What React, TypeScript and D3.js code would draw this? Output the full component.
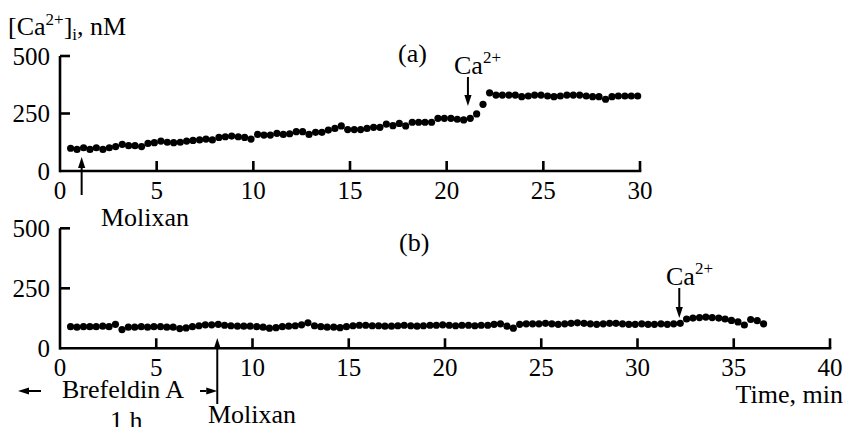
import React from "react";
import * as d3 from "d3";

// ---------- DATA ----------
const timesA = [
  0.55, 0.88,
  1.22, 1.55, 1.88, 2.22, 2.55, 2.88, 3.22, 3.55, 3.88, 4.22, 4.55, 4.88,
  5.22, 5.55, 5.88, 6.22, 6.55, 6.88, 7.22, 7.55, 7.88, 8.22, 8.55, 8.88,
  9.22, 9.55, 9.88, 10.22, 10.55, 10.88, 11.22, 11.55, 11.88, 12.22, 12.55, 12.88,
  13.22, 13.55, 13.88, 14.22, 14.55, 14.88, 15.22, 15.55, 15.88, 16.22, 16.55, 16.88,
  17.22, 17.55, 17.88, 18.22, 18.55, 18.88, 19.22, 19.55, 19.88, 20.22, 20.55, 20.88,
  21.22, 21.55, 21.88, 22.22, 22.55, 22.88, 23.22, 23.55, 23.88, 24.22, 24.55, 24.88,
  25.22, 25.55, 25.88, 26.22, 26.55, 26.88, 27.22, 27.55, 27.88, 28.22, 28.55, 28.88,
  29.22, 29.55, 29.88,
];
const valuesA = [
  99, 94, 101, 94, 101, 94, 101, 106, 116, 110, 110, 106, 120, 123, 130, 125, 123, 125, 130, 133,
  135, 139, 135, 146, 149, 152, 149, 146, 139, 159,
  156, 156, 164, 159, 162, 171, 171, 159, 168, 168, 178, 185, 196, 180, 180, 180, 185, 190, 190, 204,
  197, 207, 196, 212, 212, 212, 212, 229, 229,
  229, 225, 222, 229, 248, 290, 340,
  330, 330, 330, 330, 323, 326, 330, 330, 326, 323, 326, 330, 330, 330, 326, 323, 323, 312, 323, 326,
  326, 326, 326,
];

const timesB = [
  0.55, 0.88,
  1.22, 1.55, 1.88, 2.22, 2.55, 2.88, 3.22, 3.55, 3.88, 4.22, 4.55, 4.88,
  5.22, 5.55, 5.88, 6.22, 6.55, 6.88, 7.22, 7.55, 7.88, 8.22, 8.55, 8.88,
  9.22, 9.55, 9.88, 10.22, 10.55, 10.88, 11.22, 11.55, 11.88, 12.22, 12.55, 12.88,
  13.22, 13.55, 13.88, 14.22, 14.55, 14.88, 15.22, 15.55, 15.88, 16.22, 16.55, 16.88,
  17.22, 17.55, 17.88, 18.22, 18.55, 18.88, 19.22, 19.55, 19.88, 20.22, 20.55, 20.88,
  21.22, 21.55, 21.88, 22.22, 22.55, 22.88, 23.22, 23.55, 23.88, 24.22, 24.55, 24.88,
  25.22, 25.55, 25.88, 26.22, 26.55, 26.88, 27.22, 27.55, 27.88, 28.22, 28.55, 28.88,
  29.22, 29.55, 29.88, 30.22, 30.55, 30.88, 31.22, 31.55, 31.88, 32.22, 32.55, 32.88,
  33.22, 33.55, 33.88, 34.22, 34.55, 34.88, 35.22, 35.55, 35.88, 36.22, 36.55,
];
const valuesB = [
  90, 88, 90, 90, 90, 92, 90,
  100, 78,
  88, 88, 90, 88, 90, 90, 88, 88,
  82, 85,
  90, 94, 98, 98,
  100, 96, 94, 92, 92,
  92, 90, 88, 84, 86, 90, 92, 94, 98, 106, 94, 90, 88, 88, 86, 90,
  94, 96, 96, 94, 94, 92, 92, 94, 96, 94, 92, 94, 96, 96, 98, 96, 94,
  96, 96, 94, 96, 96, 100, 102, 92, 84, 100, 102,
  102, 102, 104, 102, 100, 102, 104, 106, 104, 102, 100, 102, 104, 104, 102, 100, 100, 102,
  100, 100, 102, 100, 102, 104, 122, 126, 128, 130, 128, 126, 122, 116, 110, 97, 120, 115, 102,
];

const yTicks = [0, 250, 500];
const xTicksA = [0, 5, 10, 15, 20, 25, 30];
const xTicksB = [0, 5, 10, 15, 20, 25, 30, 35, 40];

// annotation times (min)
const molixanA = 1.12;
const calciumA = 21.1;
const molixanB = 8.17;
const calciumB = 32.17;

// ---------- LAYOUT ----------
const FONT = "'Liberation Serif', 'Times New Roman', serif";
const FS = 26; // words
const FN = 25; // numbers
const FSUP = 17;
const AXW = 2.6;

const xA = d3.scaleLinear().domain([0, 30]).range([60, 640]);
const yA = d3.scaleLinear().domain([0, 500]).range([171, 56]);
const xB = d3.scaleLinear().domain([0, 40]).range([60, 830]);
const yB = d3.scaleLinear().domain([0, 500]).range([348.3, 228.3]);

function Arrow({ x1, y1, x2, y2 }: { x1: number; y1: number; x2: number; y2: number }) {
  const ang = Math.atan2(y2 - y1, x2 - x1);
  const L = 11;
  const W = 3.6;
  const bx = x2 - L * Math.cos(ang);
  const by = y2 - L * Math.sin(ang);
  const px = -Math.sin(ang) * W;
  const py = Math.cos(ang) * W;
  return (
    <g>
      <line x1={x1} y1={y1} x2={bx} y2={by} stroke="#000" strokeWidth={2} />
      <polygon points={`${x2},${y2} ${bx + px},${by + py} ${bx - px},${by - py}`} fill="#000" />
    </g>
  );
}

function Panel({
  x, y, xTicks, times, values,
}: {
  x: d3.ScaleLinear<number, number>;
  y: d3.ScaleLinear<number, number>;
  xTicks: number[];
  times: number[];
  values: number[];
}) {
  const [x0, x1] = x.range();
  const y0 = y(0);
  return (
    <g>
      <line x1={x0} y1={y(500)} x2={x0} y2={y0 + AXW / 2} stroke="#000" strokeWidth={AXW} />
      <line x1={x0} y1={y0} x2={x1 + AXW / 2} y2={y0} stroke="#000" strokeWidth={AXW} />
      {yTicks.filter((t) => t > 0).map((t) => (
        <line key={"yt" + t} x1={x0} x2={x0 + 10} y1={y(t)} y2={y(t)} stroke="#000" strokeWidth={AXW} />
      ))}
      {xTicks.filter((t) => t > 0).map((t) => (
        <line key={"xt" + t} x1={x(t)} x2={x(t)} y1={y0} y2={y0 - 10} stroke="#000" strokeWidth={AXW} />
      ))}
      {yTicks.map((t) => (
        <text key={"yl" + t} x={50} y={y(t) + 8.5} textAnchor="end" fontFamily={FONT} fontSize={FN}>
          {t}
        </text>
      ))}
      {xTicks.map((t) => (
        <text key={"xl" + t} x={x(t)} y={y0 + 28} textAnchor="middle" fontFamily={FONT} fontSize={FN}>
          {t}
        </text>
      ))}
      {times.map((t, i) => (
        <circle key={"p" + i} cx={x(t)} cy={y(values[i])} r={3.6} fill="#000" />
      ))}
    </g>
  );
}

export default function App() {
  return (
    <svg
      width={846}
      height={427}
      viewBox="0 0 846 427"
      style={{ position: "absolute", left: 0, top: 0, background: "#fff" }}
    >
      <rect x={0} y={0} width={846} height={427} fill="#fff" />

      <text x={8} y={35} fontFamily={FONT} fontSize={FS}>
        [Ca<tspan fontSize={FSUP} dy={-10}>2+</tspan>
        <tspan dy={10}>]</tspan>
        <tspan fontSize={FSUP} dy={5}>i</tspan>
        <tspan dy={-5}>, nM</tspan>
      </text>

      {/* panel a */}
      <Panel x={xA} y={yA} xTicks={xTicksA} times={timesA} values={valuesA} />
      <text x={398} y={62} fontFamily={FONT} fontSize={FS}>(a)</text>
      <text x={454} y={74} fontFamily={FONT} fontSize={FS}>
        Ca<tspan fontSize={FSUP} dy={-11}>2+</tspan>
      </text>
      <Arrow x1={xA(calciumA)} y1={77} x2={xA(calciumA)} y2={106} />
      <Arrow x1={xA(molixanA)} y1={195} x2={xA(molixanA)} y2={157} />
      <text x={101} y={226} fontFamily={FONT} fontSize={FS}>Molixan</text>

      {/* panel b */}
      <Panel x={xB} y={yB} xTicks={xTicksB} times={timesB} values={valuesB} />
      <text x={399} y={251} fontFamily={FONT} fontSize={FS}>(b)</text>
      <text x={666} y={285} fontFamily={FONT} fontSize={FS}>
        Ca<tspan fontSize={FSUP} dy={-11}>2+</tspan>
      </text>
      <Arrow x1={xB(calciumB)} y1={288} x2={xB(calciumB)} y2={318} />
      <Arrow x1={xB(molixanB)} y1={404} x2={xB(molixanB)} y2={338} />
      <text x={843} y={403} textAnchor="end" fontFamily={FONT} fontSize={FS}>Time, min</text>

      {/* Brefeldin A annotation */}
      <Arrow x1={41} y1={391} x2={18} y2={391} />
      <text x={62} y={398} fontFamily={FONT} fontSize={FS}>Brefeldin A</text>
      <Arrow x1={200} y1={391} x2={xB(molixanB)} y2={391} />
      <text x={110} y={429} fontFamily={FONT} fontSize={FS}>1 h</text>
      <text x={208} y={423} fontFamily={FONT} fontSize={FS}>Molixan</text>
    </svg>
  );
}
